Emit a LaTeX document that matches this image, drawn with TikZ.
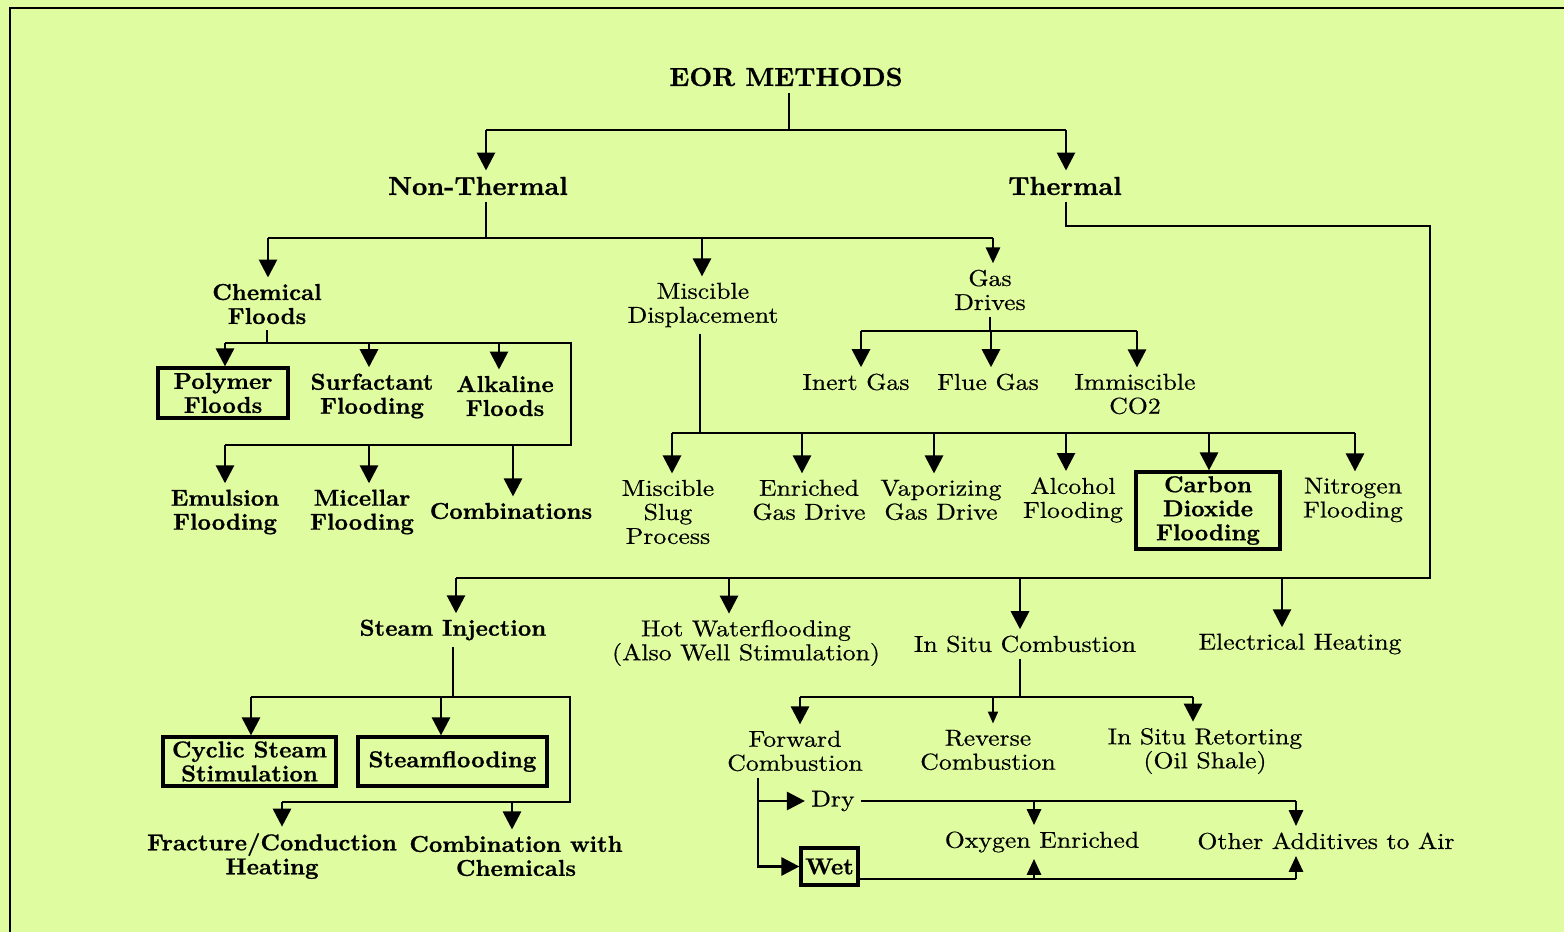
\documentclass[tikz,border=0pt]{standalone}
\usepackage{fontspec}
\usetikzlibrary{arrows.meta}
\newfontfamily\rmff{lmroman10-regular.otf}[FakeStretch=1.12,FakeBold=0.5]
\newfontfamily\bxff{lmroman10-bold.otf}[FakeStretch=1.02,FakeBold=0.8]
\newcommand\rmtxt{\rmff\fontsize{11.5}{12}\selectfont}
\newcommand\bxtxt{\bxff\fontsize{11.5}{12}\selectfont}
\newcommand\hdtxt{\bxff\fontsize{13}{14}\selectfont}
\definecolor{bg}{RGB}{224,252,161}
\tikzset{
  ln/.style={line width=1.4pt, line join=miter},
  arr/.style={line width=1.4pt, -{Triangle[width=9pt,length=9pt]}},
  marr/.style={line width=1.4pt, -{Triangle[width=7pt,length=8pt]}},
  sarr/.style={line width=1pt, -{Triangle[width=5pt,length=6pt]}},
  rt/.style={font=\rmtxt, align=center, inner sep=3pt},
  bt/.style={font=\bxtxt, align=center, inner sep=3pt},
  hd/.style={font=\hdtxt, align=center, inner sep=3pt},
  bx/.style={draw, line width=1.6pt, font=\bxtxt, align=center, inner sep=0pt}
}
\begin{document}
\begin{tikzpicture}[x=0.5pt,y=-0.5pt]
\useasboundingbox (0,0) rectangle (1564,932);
\fill[bg] (0,0) rectangle (1564,932);
\draw[line width=1pt] (10,932) -- (10,8) -- (1564,8);

% ---------- nodes ----------
\node[hd] (eor) at (786,77) {EOR METHODS};
\node[hd] (nt) at (478,186) {Non-Thermal};
\node[hd] (th) at (1065,186) {Thermal};

\node[bt] (cf) at (267,304) {Chemical\\Floods};
\node[rt] (md) at (703,305) {Miscible\\Displacement};
\node[rt] (gd) at (990,290) {Gas\\Drives};

\node[bx, minimum width=65pt, minimum height=25pt] (pf) at (223,393) {Polymer\\Floods};
\node[bt] (sf) at (372,396) {Surfactant\\Flooding};
\node[bt] (af) at (505,396) {Alkaline\\Floods};
\node[bt] (ef) at (225,512) {Emulsion\\Flooding};
\node[bt] (mf) at (362,512) {Micellar\\Flooding};
\node[bt] (cb) at (511,511) {Combinations};

\node[rt] (ig) at (856,382) {Inert Gas};
\node[rt] (fg) at (988,382) {Flue Gas};
\node[rt] (ic) at (1135,394) {Immiscible\\CO2};

\node[rt] (ms) at (668,512) {Miscible\\Slug\\Process};
\node[rt] (eg) at (809,500) {Enriched\\Gas Drive};
\node[rt] (vg) at (941,500) {Vaporizing\\Gas Drive};
\node[rt] (al) at (1073,500) {Alcohol\\Flooding};
\node[bx, minimum width=72pt, minimum height=38.5pt] (cd) at (1208,510.5) {Carbon\\Dioxide\\Flooding};
\node[rt] (nf) at (1353,500) {Nitrogen\\Flooding};

\node[bt] (si) at (453,630) {Steam Injection};
\node[rt] (hw) at (746,643) {Hot Waterflooding\\(Also Well Stimulation)};
\node[rt] (isc) at (1025,644) {In Situ Combustion};
\node[rt] (eh) at (1300,644) {Electrical Heating};

\node[bx, minimum width=86.5pt, minimum height=24.5pt] (cs) at (249.5,761.5) {Cyclic Steam\\Stimulation};
\node[bx, minimum width=94.5pt, minimum height=24.5pt] (sfl) at (452.5,761.5) {Steamflooding};
\node[bt] (fc) at (272,856) {Fracture/Conduction\\Heating};
\node[bt] (cc) at (516,856) {Combination with\\Chemicals};

\node[rt] (fwd) at (795,751) {Forward\\Combustion};
\node[rt] (rev) at (988,750) {Reverse\\Combustion};
\node[rt] (ret) at (1205,751) {In Situ Retorting\\(Oil Shale)};

\node[rt] (dry) at (833,801) {Dry};
\node[bx, minimum width=28.5pt, minimum height=18.5pt] (wet) at (829.5,866.5) {Wet};
\node[rt] (oe) at (1042,842) {Oxygen Enriched};
\node[rt] (oa) at (1326,841) {Other Additives to Air};

% ---------- junction coordinates ----------
\coordinate (j0) at (789,130);
\coordinate (j0l) at (486,130);
\coordinate (j0r) at (1066,130);

\coordinate (j1) at (486,238);
\coordinate (j1a) at (268,238);
\coordinate (j1b) at (702,238);
\coordinate (j1c) at (993,238);

\coordinate (j2) at (1066,226);
\coordinate (j2r) at (1430,226);
\coordinate (j2d) at (1430,578);
\coordinate (t1) at (456,578);
\coordinate (t2) at (729,578);
\coordinate (t3) at (1020,578);
\coordinate (t4) at (1282,578);

\coordinate (c0) at (267,343);
\coordinate (c1) at (225,343);
\coordinate (c2) at (369,343);
\coordinate (c3) at (499,343);
\coordinate (c4) at (571,343);
\coordinate (c5) at (571,445);
\coordinate (c6) at (225,445);
\coordinate (c7) at (369,445);
\coordinate (c8) at (513,445);

\coordinate (g0) at (990,331);
\coordinate (g1) at (861,331);
\coordinate (g2) at (991,331);
\coordinate (g3) at (1137,331);

\coordinate (m0) at (700,433);
\coordinate (m1) at (672,433);
\coordinate (m2) at (802,433);
\coordinate (m3) at (934,433);
\coordinate (m4) at (1066,433);
\coordinate (m5) at (1209,433);
\coordinate (m6) at (1355,433);

\coordinate (s0) at (453,697);
\coordinate (s1) at (251,697);
\coordinate (s2) at (441,697);
\coordinate (s3) at (570,697);
\coordinate (s4) at (570,802);
\coordinate (s5) at (282,802);
\coordinate (s6) at (512,802);

\coordinate (i0) at (1020,697);
\coordinate (i1) at (800,697);
\coordinate (i2) at (993,697);
\coordinate (i3) at (1193,697);

\coordinate (f0) at (758,775);
\coordinate (f1) at (758,801);
\coordinate (d1) at (1034,801);
\coordinate (d2) at (1296,801);
\coordinate (w1) at (1034,879);
\coordinate (w2) at (1296,879);

% ---------- connectors ----------
\draw[ln] (j0 |- eor.south) -- (j0);
\draw[ln] (j0l) -- (j0r);
\draw[arr] (j0l) -- (j0l |- nt.north);
\draw[arr] (j0r) -- (j0r |- th.north);

\draw[ln] (j1 |- nt.south) -- (j1);
\draw[ln] (j1a) -- (j1c);
\draw[arr] (j1a) -- (j1a |- cf.north);
\draw[arr] (j1b) -- (j1b |- md.north);
\draw[marr] (j1c) -- (j1c |- gd.north);

\draw[ln] (j2 |- th.south) -- (j2) -- (j2r) -- (j2d) -- (t1);
\draw[arr] (t1) -- (t1 |- si.north);
\draw[arr] (t2) -- (t2 |- hw.north);
\draw[arr] (t3) -- (t3 |- isc.north);
\draw[arr] (t4) -- (t4 |- eh.north);

\draw[ln] (c0 |- cf.south) -- (c0);
\draw[ln] (c1) -- (c4) -- (c5) -- (c6);
\draw[arr] (c1) -- (c1 |- pf.north);
\draw[arr] (c2) -- (c2 |- sf.north);
\draw[arr] (c3) -- (c3 |- af.north);
\draw[arr] (c6) -- (c6 |- ef.north);
\draw[arr] (c7) -- (c7 |- mf.north);
\draw[arr] (c8) -- (c8 |- cb.north);

\draw[ln] (g0 |- gd.south) -- (g0);
\draw[ln] (g1) -- (g3);
\draw[arr] (g1) -- (g1 |- ig.north);
\draw[arr] (g2) -- (g2 |- fg.north);
\draw[arr] (g3) -- (g3 |- ic.north);

\draw[ln] (m0 |- md.south) -- (m0);
\draw[ln] (m1) -- (m6);
\draw[arr] (m1) -- (m1 |- ms.north);
\draw[arr] (m2) -- (m2 |- eg.north);
\draw[arr] (m3) -- (m3 |- vg.north);
\draw[arr] (m4) -- (m4 |- al.north);
\draw[arr] (m5) -- (m5 |- cd.north);
\draw[arr] (m6) -- (m6 |- nf.north);

\draw[ln] (s0 |- si.south) -- (s0);
\draw[ln] (s1) -- (s3) -- (s4) -- (s5);
\draw[arr] (s1) -- (s1 |- cs.north);
\draw[arr] (s2) -- (s2 |- sfl.north);
\draw[arr] (s5) -- (s5 |- fc.north);
\draw[arr] (s6) -- (s6 |- cc.north);

\draw[ln] (i0 |- isc.south) -- (i0);
\draw[ln] (i1) -- (i3);
\draw[arr] (i1) -- (i1 |- fwd.north);
\draw[sarr] (i2) -- (i2 |- rev.north);
\draw[arr] (i3) -- (i3 |- ret.north);

\draw[arr] (f0 |- fwd.south) |- (wet.west);
\draw[arr] (f1) -- (dry.west);
\draw[ln] (dry.east) -- (d2);
\draw[marr] (d1) -- (d1 |- oe.north);
\draw[marr] (d2) -- (d2 |- oa.north);
\draw[ln] (wet.east |- w1) -- (w2);
\draw[marr] (w1) -- (w1 |- oe.south);
\draw[marr] (w2) -- (w2 |- oa.south);
\end{tikzpicture}
\end{document}
